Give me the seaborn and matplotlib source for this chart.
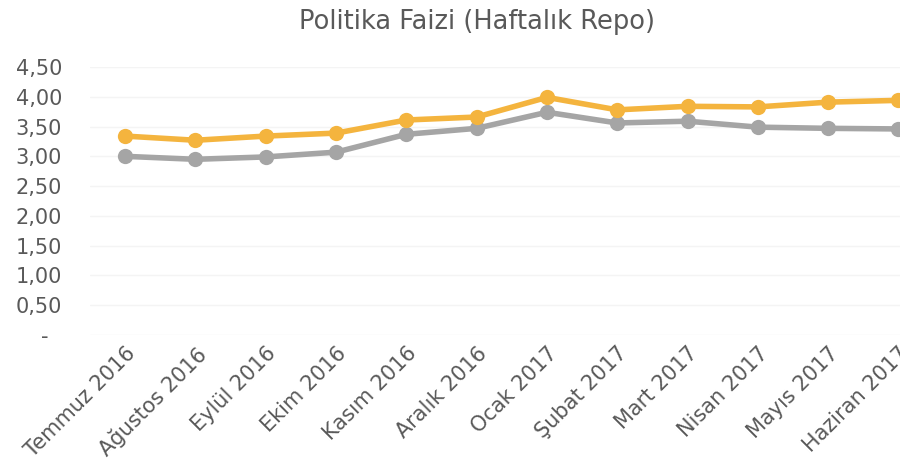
import matplotlib
matplotlib.use("Agg")
import matplotlib.pyplot as plt
import seaborn as sns
import pandas as pd
from matplotlib.ticker import FuncFormatter

months = ["Temmuz 2016", "Ağustos 2016", "Eylül 2016", "Ekim 2016", "Kasım 2016",
          "Aralık 2016", "Ocak 2017", "Şubat 2017", "Mart 2017", "Nisan 2017",
          "Mayıs 2017", "Haziran 2017"]
orange_vals = [3.34, 3.27, 3.34, 3.39, 3.61, 3.66, 3.99, 3.78, 3.84, 3.83, 3.91, 3.94]
gray_vals = [3.00, 2.95, 2.99, 3.07, 3.37, 3.47, 3.74, 3.56, 3.59, 3.49, 3.47, 3.46]
yticks = [0.0, 0.5, 1.0, 1.5, 2.0, 2.5, 3.0, 3.5, 4.0, 4.5]

sns.set_theme(style="white")
plt.rcParams['font.family'] = ['DejaVu Sans']

df = pd.DataFrame({
    "x": list(range(len(months))) * 2,
    "value": orange_vals + gray_vals,
    "series": ["A"] * len(months) + ["B"] * len(months),
})

fig = plt.figure(figsize=(9, 4.74), dpi=100)
ax = fig.add_axes([90 / 900, 1 - 335 / 474, 843.6 / 900, (335 - 67) / 474])

text_color = "#595959"
for y in yticks:
    ax.axhline(y, color="#f4f4f4", lw=1, zorder=0)

sns.lineplot(data=df, x="x", y="value", hue="series",
             palette={"A": "#F4B43E", "B": "#A5A5A5"},
             hue_order=["B", "A"],
             marker="o", markersize=11, markeredgewidth=0, linewidth=4,
             legend=False, ax=ax, zorder=3)

ax.set_xlim(-0.5, len(months) - 0.5)
ax.set_ylim(0, 4.5)
ax.set_yticks(yticks)
ax.yaxis.set_major_formatter(FuncFormatter(lambda v, p: "-  " if v == 0 else f"{v:.2f}".replace(".", ",")))
ax.set_xticks(range(len(months)))
ax.set_xticklabels(months, rotation=45, ha="right", rotation_mode="anchor")
ax.tick_params(axis="both", length=0, labelsize=15, colors=text_color)
ax.tick_params(axis="y", pad=20)
ax.tick_params(axis="x", pad=6)
for s in ax.spines.values():
    s.set_visible(False)
ax.set_xlabel("")
ax.set_ylabel("")

fig.text(477 / 900, 1 - 22 / 474, "Politika Faizi (Haftalık Repo)", ha="center", va="center",
         fontsize=18.5, color=text_color)

fig.savefig("out.png", dpi=100)
